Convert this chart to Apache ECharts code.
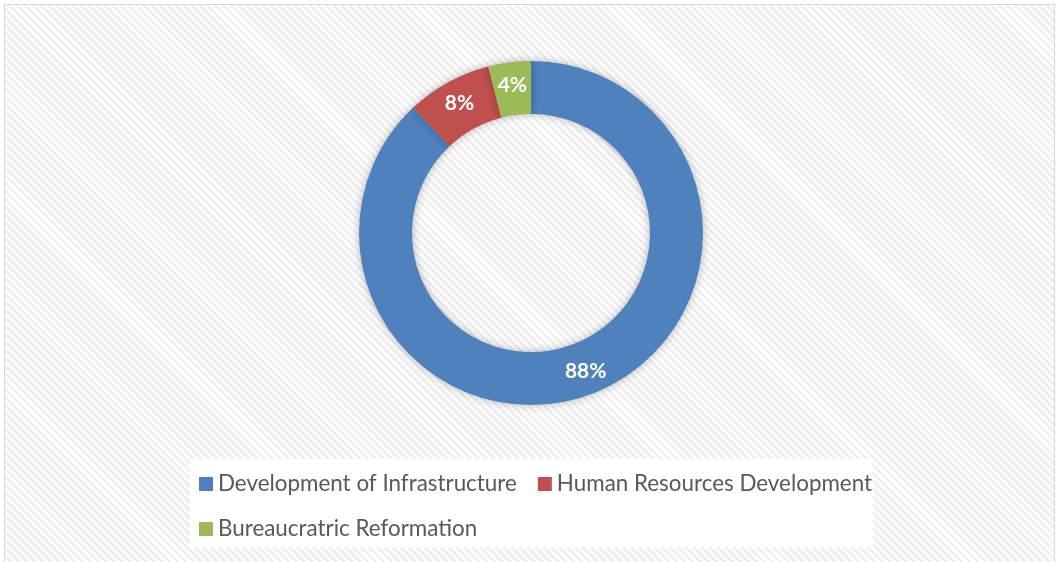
<!DOCTYPE html>
<html>
<head>
<meta charset="utf-8">
<style>
  html, body { margin: 0; padding: 0; width: 1060px; height: 562px; overflow: hidden; background: #ffffff; }
  #frame {
    position: absolute; left: 4px; top: 4px; width: 1051px; height: 562px;
    border: 1px solid #d9d9d9; box-sizing: border-box;
    background: repeating-linear-gradient(45deg, #eeeeee 0px, #eeeeee 2.6px, #fdfdfd 2.6px, #fdfdfd 5.6px);
  }
  #chart { position: absolute; left: 0; top: 0; width: 1060px; height: 562px; }
</style>
<script src="https://cdn.jsdelivr.net/npm/echarts@6/dist/echarts.min.js"></script>
</head>
<body>
<div id="frame"></div>
<div id="chart"></div>
<script>
const categories = ['Development of Infrastructure', 'Human Resources Development', 'Bureaucratric Reformation'];
const values = [88, 8, 4];
const colors = ['#4F81BD', '#C0504D', '#9BBB59'];

const chart = echarts.init(document.getElementById('chart'), null, { renderer: 'canvas' });
const fontFamily = 'Lato, "Open Sans", sans-serif';

chart.setOption({
  backgroundColor: 'transparent',
  animation: false,
  color: colors,
  legend: {
    data: categories,
    left: 190,
    top: 459,
    width: 700,
    orient: 'horizontal',
    padding: [13, 1, 6, 9],
    backgroundColor: '#ffffff',
    itemWidth: 14,
    itemHeight: 14,
    itemGap: 21,
    icon: 'rect',
    textStyle: {
      fontFamily: fontFamily,
      fontSize: 22.4,
      color: '#595959',
      lineHeight: 24
    }
  },
  series: [{
    type: 'pie',
    center: [531, 233],
    radius: [119, 172],
    startAngle: 90,
    clockwise: true,
    avoidLabelOverlap: false,
    silent: true,
    itemStyle: {
      shadowBlur: 8,
      shadowColor: 'rgba(0,0,0,0.28)',
      shadowOffsetX: 0,
      shadowOffsetY: 0
    },
    label: {
      show: true,
      position: 'inside',
      formatter: '{d}%',
      color: '#ffffff',
      fontFamily: fontFamily,
      fontWeight: 'bold',
      fontSize: 21
    },
    labelLine: { show: false },
    data: categories.map((c, i) => ({ name: c, value: values[i] }))
  }]
});
</script>
</body>
</html>
